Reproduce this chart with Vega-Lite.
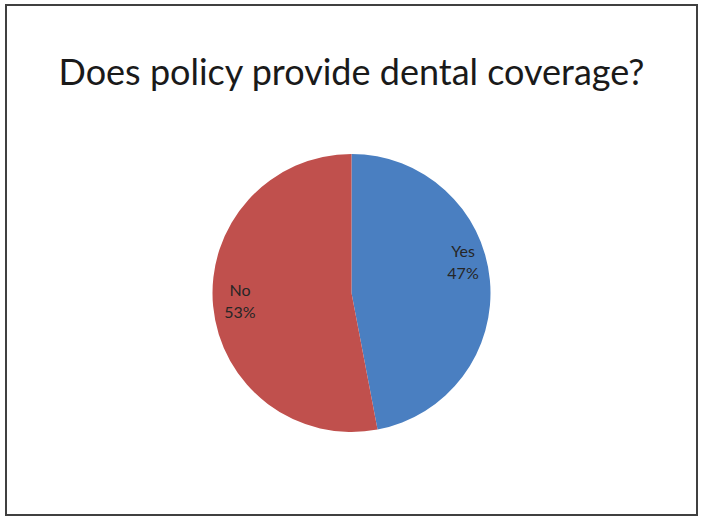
{
  "$schema": "https://vega.github.io/schema/vega-lite/v6.json",
  "autosize": {"type": "fit", "contains": "padding"},
  "width": 702,
  "height": 516,
  "padding": {"left": 5, "top": 4, "right": 4, "bottom": 0},
  "background": "white",
  "title": {
    "text": "Does policy provide dental coverage?",
    "font": "Lato",
    "fontSize": 36,
    "fontWeight": "normal",
    "color": "#1a1a1a",
    "anchor": "middle",
    "baseline": "alphabetic",
    "offset": -117
  },
  "data": {
    "values": [
      {"cat": "Yes", "value": 47, "label": "Yes\n47%"},
      {"cat": "No", "value": 53, "label": "No\n53%"}
    ]
  },
  "layer": [
    {
      "data": {"values": [{"frame": "border"}]},
      "mark": {"type": "rect", "fill": null, "stroke": "#404040", "strokeWidth": 2},
      "encoding": {}
    },
    {
      "mark": {"type": "arc", "radius": 139, "yOffset": 33, "stroke": null},
      "encoding": {
        "theta": {"field": "value", "type": "quantitative", "stack": true},
        "order": {"field": "value", "sort": "ascending"},
        "color": {
          "field": "cat",
          "type": "nominal",
          "scale": {"domain": ["Yes", "No"], "range": ["#4A7FC1", "#C0504D"]},
          "legend": null
        }
      }
    },
    {
      "mark": {"type": "text", "radius": 112, "yOffset": 20, "font": "Lato", "fontSize": 16, "color": "#262626", "lineBreak": "\n", "lineHeight": 22, "baseline": "middle"},
      "encoding": {
        "theta": {"field": "value", "type": "quantitative", "stack": true},
        "order": {"field": "value", "sort": "ascending"},
        "text": {"condition": {"test": "datum.cat === 'No'", "field": "label"}, "value": ""}
      }
    },
    {
      "mark": {"type": "text", "radius": 112, "yOffset": 2.5, "font": "Lato", "fontSize": 16, "color": "#262626", "lineBreak": "\n", "lineHeight": 22, "baseline": "middle"},
      "encoding": {
        "theta": {"field": "value", "type": "quantitative", "stack": true},
        "order": {"field": "value", "sort": "ascending"},
        "text": {"condition": {"test": "datum.cat === 'Yes'", "field": "label"}, "value": ""}
      }
    }
  ]
}
